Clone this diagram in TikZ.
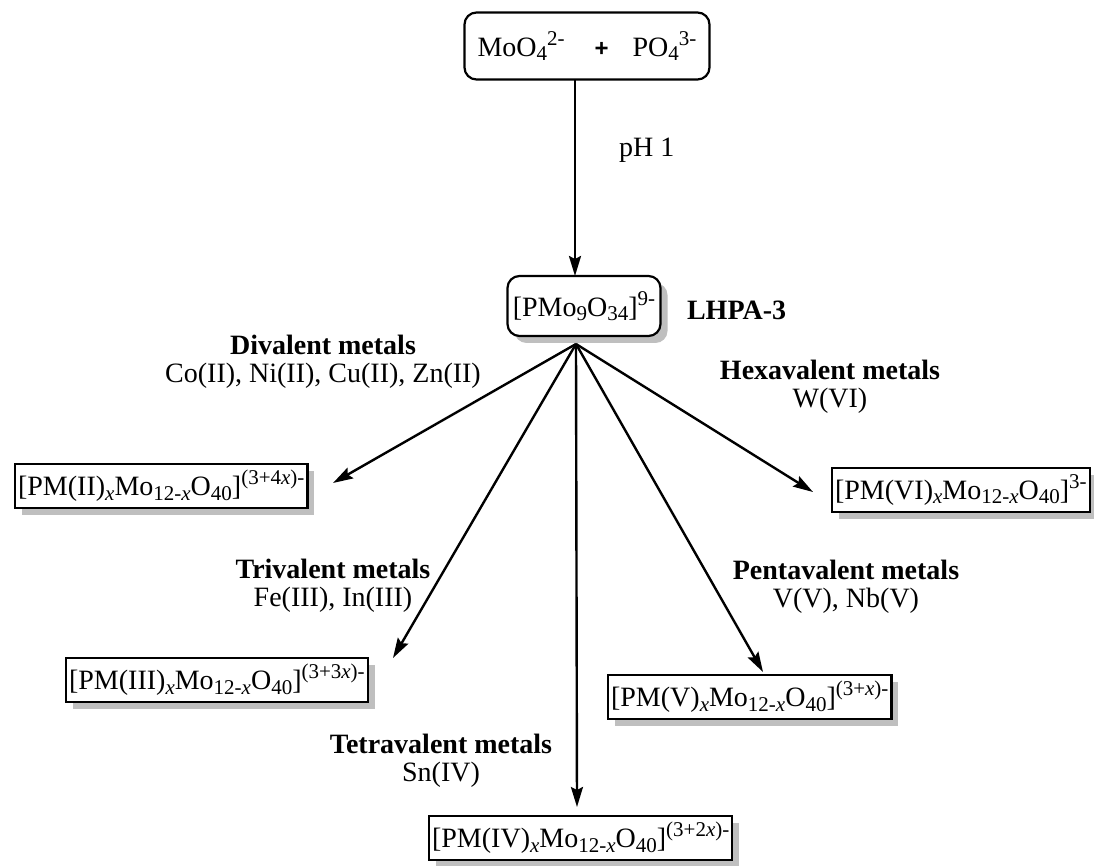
\documentclass[tikz,border=0pt]{standalone}
\usepackage{fontspec}
\setmainfont{Liberation Serif}
\setsansfont{Liberation Sans}
\usetikzlibrary{shadows,arrows.meta}
\newcommand{\lo}[1]{\raisebox{-0.35ex}{\fontsize{10.5}{10.5}\selectfont #1}}
\newcommand{\hi}[1]{\raisebox{0.85ex}{\fontsize{10.5}{10.5}\selectfont #1}}

\begin{document}
\begin{tikzpicture}[x=0.5pt,y=-0.5pt,
  every node/.style={font=\fontsize{14}{14}\selectfont},
  start/.style={draw, line width=1.1pt, rounded corners=6pt, minimum width=122.5pt, minimum height=33.5pt, inner sep=0pt},
  inter/.style={draw, line width=1.1pt, rounded corners=6pt, fill=white, minimum width=76.5pt, minimum height=30pt, inner sep=0pt,
    drop shadow={shadow xshift=3.5pt, shadow yshift=-3.5pt, fill=gray!50, opacity=1}},
  product/.style={draw, line width=1.1pt, fill=white, inner xsep=1.5pt, inner ysep=0pt, minimum height=22pt, anchor=west,
    drop shadow={shadow xshift=3.5pt, shadow yshift=-3.5pt, fill=gray!50, opacity=1}},
  metals/.style={align=center},
  conn/.style={line width=1.2pt, -{Stealth[length=10pt,width=6pt,inset=1.5pt]}}]
  \useasboundingbox (0,0) rectangle (1094,866);

  \node[start] (reag) at (587,46) {MoO\lo{4}\hi{2-}\hspace{15pt}{\sffamily\bfseries\fontsize{12}{12}\selectfont +}\hspace{12pt}PO\lo{4}\hi{3-}};
  \node[inter] (lhpa) at (584,306) {[PMo\lo{9}O\lo{34}]\hi{9-}};
  \node[anchor=west, font=\fontsize{14}{14}\selectfont\bfseries] (lhpaname) at (680,310) {LHPA-3};
  \node[anchor=west] (ph) at (612,150) {pH 1};

  \coordinate (top) at (575,80);
  \coordinate (tiplhpa) at (575,276);
  \coordinate (fan) at (576,344);

  \node[product] (pmII) at (14,486) {[PM(II)\lo{\textit{x}}Mo\lo{12-\textit{x}}O\lo{40}]\hi{(3+4\textit{x})-}};
  \node[product] (pmIII) at (65,680) {[PM(III)\lo{\textit{x}}Mo\lo{12-\textit{x}}O\lo{40}]\hi{(3+3\textit{x})-}};
  \node[product] (pmIV) at (428,838) {[PM(IV)\lo{\textit{x}}Mo\lo{12-\textit{x}}O\lo{40}]\hi{(3+2\textit{x})-}};
  \node[product] (pmV) at (607,697) {[PM(V)\lo{\textit{x}}Mo\lo{12-\textit{x}}O\lo{40}]\hi{(3+\textit{x})-}};
  \node[product] (pmVI) at (831,490) {[PM(VI)\lo{\textit{x}}Mo\lo{12-\textit{x}}O\lo{40}]\hi{3-}};

  \coordinate (tipII) at (333,483);
  \coordinate (tipIII) at (393,658);
  \coordinate (tipIV) at (577,807);
  \coordinate (tipV) at (763,672);
  \coordinate (tipVI) at (813,492);

  \node[metals] (divalent) at (323,362) {\textbf{Divalent metals}\\Co(II), Ni(II), Cu(II), Zn(II)};
  \node[metals] (trivalent) at (333,586) {\textbf{Trivalent metals}\\Fe(III), In(III)};
  \node[metals] (tetravalent) at (441,761) {\textbf{Tetravalent metals}\\Sn(IV)};
  \node[metals] (pentavalent) at (846,587) {\textbf{Pentavalent metals}\\V(V), Nb(V)};
  \node[metals] (hexavalent) at (830,387) {\textbf{Hexavalent metals}\\W(VI)};

  \draw[conn] (top) -- (tiplhpa);
  \draw[conn] (fan) -- (tipII);
  \draw[conn] (fan) -- (tipIII);
  \draw[conn] (fan) -- (tipIV);
  \draw[conn] (fan) -- (tipV);
  \draw[conn] (fan) -- (tipVI);
\end{tikzpicture}
\end{document}
